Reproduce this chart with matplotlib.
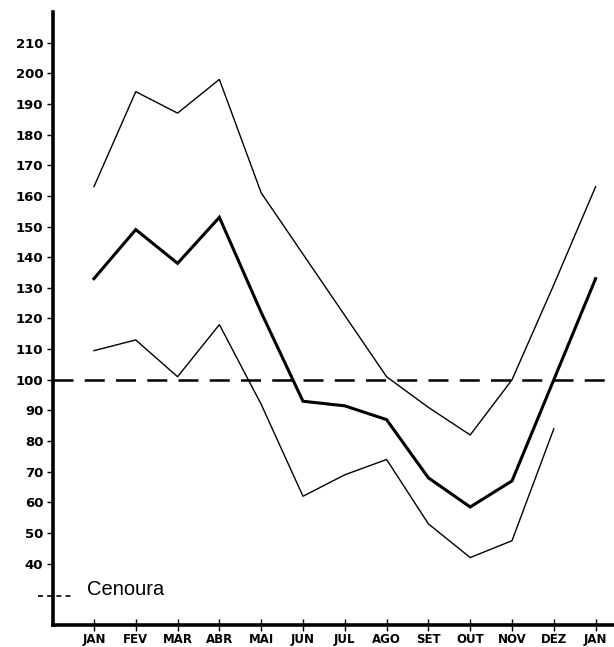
import matplotlib
matplotlib.use("Agg")
import matplotlib.pyplot as plt

months = ["JAN", "FEV", "MAR", "ABR", "MAI", "JUN", "JUL", "AGO",
          "SET", "OUT", "NOV", "DEZ", "JAN"]
upper = [163, 194, 187, 198, 161, 141, 121, 101, 91, 82, 100, 131, 163]
middle = [133, 149, 138, 153, 122, 93, 91.5, 87, 68, 58.5, 67, 100, 133]
lower = [109.5, 113, 101, 118, 92, 62, 69, 74, 53, 42, 47.5, 84]
reference_level = 100
yticks = list(range(40, 211, 10))
label = "Cenoura"

fig = plt.figure(figsize=(6.14, 6.47), dpi=100)
ax = fig.add_axes([0.0863, 0.034, 0.9137, 0.9475])

x_all = list(range(len(months)))
ax.plot(x_all, upper, color="black", lw=1.0, solid_joinstyle="miter")
ax.plot(x_all, middle, color="black", lw=2.2, solid_joinstyle="miter")
ax.plot(x_all[:len(lower)], lower, color="black", lw=1.0, solid_joinstyle="miter")
ax.axhline(reference_level, color="black", lw=1.8, dashes=(8, 4.5))

ax.set_xlim(-0.98, 12.44)
ax.set_ylim(20, 220)

for s in ["top", "right"]:
    ax.spines[s].set_visible(False)
for s in ["left", "bottom"]:
    ax.spines[s].set_linewidth(2.6)

ax.set_yticks(yticks)
ax.set_yticklabels([str(v) for v in yticks], fontsize=9.5, family="DejaVu Sans",
                   fontweight="bold")
ax.tick_params(axis="y", direction="out", length=4, width=1, pad=3)

ax.set_xticks(x_all)
ax.set_xticklabels(months, fontsize=8.5, family="DejaVu Sans", fontweight="bold")
ax.tick_params(axis="x", direction="inout", length=8, width=1, pad=2)

# legend-like key + label
ax.plot([-1.35, -0.55], [29.5, 29.5], color="black", lw=1.2, dashes=(3, 2.5),
        clip_on=False)
ax.text(-0.17, 31.5, label, fontsize=14.5, family="Liberation Sans",
        ha="left", va="center")

fig.savefig("out.png", dpi=100, facecolor="white")
